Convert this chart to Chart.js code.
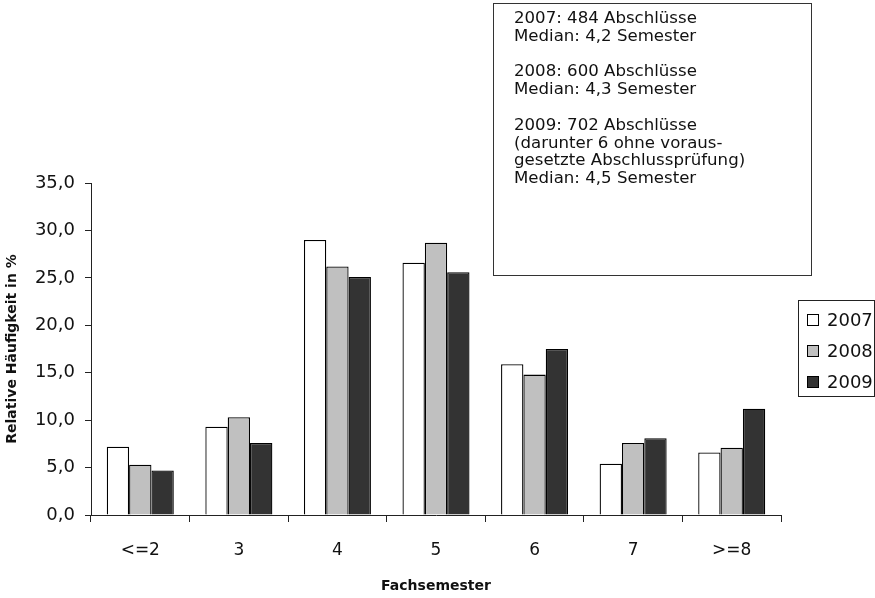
<!DOCTYPE html>
<html>
<head>
<meta charset="utf-8">
<script src="https://cdn.jsdelivr.net/npm/chart.js@4/dist/chart.umd.min.js"></script>
<style>
    html, body { margin: 0; padding: 0; background: #fff; }
    #wrap { position: relative; width: 875px; height: 598px; }
    #note {
        position: absolute; left: 493px; top: 3px; width: 297px; height: 266px;
        border: 1px solid #333; padding: 5px 0 0 20px; box-sizing: content-box;
        font-family: "DejaVu Sans", sans-serif; font-size: 16.6px;
        line-height: 17.8px; color: #111; white-space: pre;
    }
</style>
</head>
<body>
<div id="wrap">
    <canvas id="c" width="875" height="598"></canvas>
    <div id="note">2007: 484 Abschlüsse
Median: 4,2 Semester

2008: 600 Abschlüsse
Median: 4,3 Semester

2009: 702 Abschlüsse
(darunter 6 ohne voraus-
gesetzte Abschlussprüfung)
Median: 4,5 Semester</div>
</div>
<script>
const categories = ["<=2", "3", "4", "5", "6", "7", ">=8"];
const years = ["2007", "2008", "2009"];
const values2007 = [7.2, 9.3, 29.0, 26.6, 15.9, 5.4, 6.6];
const values2008 = [5.3, 10.3, 26.2, 28.7, 14.8, 7.6, 7.1];
const values2009 = [4.7, 7.6, 25.1, 25.6, 17.5, 8.1, 11.2];
const fills = ["#ffffff", "#c0c0c0", "#333333"];

const FONT = '"DejaVu Sans", sans-serif';

// legend with a frame, drawn from the datasets
const boxLegend = {
    id: "boxLegend",
    afterDraw(chart) {
        const ctx = chart.ctx;
        ctx.save();
        ctx.strokeStyle = "#222";
        ctx.lineWidth = 1;
        ctx.strokeRect(798.5, 300.5, 76, 96);
        ctx.font = "18px " + FONT;
        ctx.textBaseline = "middle";
        chart.data.datasets.forEach((ds, i) => {
            const y = 320 + i * 31;
            ctx.fillStyle = ds.backgroundColor;
            ctx.fillRect(807.5, y - 5.5, 11, 11);
            ctx.strokeStyle = "#000";
            ctx.strokeRect(807.5, y - 5.5, 11, 11);
            ctx.fillStyle = "#111";
            ctx.fillText(ds.label, 827, y + 1);
        });
        ctx.restore();
    }
};

const series = [values2007, values2008, values2009];

new Chart(document.getElementById("c"), {
    type: "bar",
    data: {
        labels: categories,
        datasets: years.map((y, i) => ({
            label: y,
            data: series[i],
            backgroundColor: fills[i],
            borderColor: "#000",
            borderWidth: 1.3,
            categoryPercentage: 0.68,
            barPercentage: 1.0
        }))
    },
    options: {
        responsive: false,
        animation: false,
        layout: { padding: { top: 183, right: 94, left: 0, bottom: 0 } },
        plugins: {
            legend: { display: false },
            tooltip: { enabled: false }
        },
        scales: {
            x: {
                grid: { drawOnChartArea: false, tickLength: 7, color: "#222", offset: true },
                border: { color: "#222", width: 1 },
                ticks: { color: "#111", font: { family: FONT, size: 17 }, padding: 18 },
                title: {
                    display: true, text: "Fachsemester", color: "#111",
                    font: { family: FONT, size: 14, weight: "bold" },
                    padding: { top: 0, bottom: 3 }
                },
                afterFit(s) { s.height = 83; }
            },
            y: {
                min: 0, max: 35,
                grid: { drawOnChartArea: false, tickLength: 6, color: "#222" },
                border: { color: "#222", width: 1 },
                ticks: {
                    stepSize: 5, color: "#111", padding: 10,
                    font: { family: FONT, size: 18 },
                    callback: v => v.toFixed(1).replace(".", ",")
                },
                title: {
                    display: true, text: "Relative Häufigkeit in %", color: "#111",
                    font: { family: FONT, size: 14, weight: "bold" },
                    padding: { top: 4, bottom: 0 }
                },
                afterFit(s) { s.width = 91; }
            }
        }
    },
    plugins: [boxLegend]
});
</script>
</body>
</html>
